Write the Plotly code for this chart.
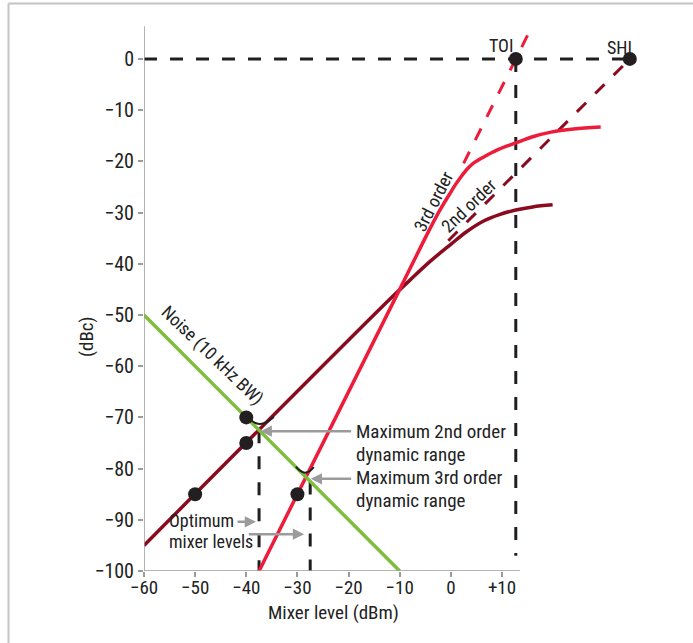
import plotly.graph_objects as go

# ---------------- data ----------------
x_tick_vals = [-60, -50, -40, -30, -20, -10, 0, 10]
x_tick_text = ["\u221260", "\u221250", "\u221240", "\u221230", "\u221220", "\u221210", "0", "+10"]
y_tick_vals = [0, -10, -20, -30, -40, -50, -60, -70, -80, -90, -100]
y_tick_text = ["0", "\u221210", "\u221220", "\u221230", "\u221240", "\u221250",
               "\u221260", "\u221270", "\u221280", "\u221290", "\u2212100"]

noise_x = [-60, -10]
noise_y = [-50, -100]

second_x = [-60, -12, -8, -4, 0, 3, 6.5, 9.5, 12.7, 16, 19.9]
second_y = [-95, -47, -43.2, -39.5, -36.2, -33.8, -31.6, -30.4, -29.5, -28.9, -28.5]
second_ext_x = [-0.5, 35]
second_ext_y = [-35.5, 0]

third_x = [-37.5, -10, -4, -2, 0, 1, 2, 3.3, 4.5, 6.5, 9, 12.7, 16, 19.6, 24, 29.3]
third_y = [-100, -45, -33, -29.3, -26, -24.4, -23, -21.4, -20.3, -19.1, -17.8, -16.4, -15.2, -14.3, -13.7, -13.3]
third_ext_x = [2.5, 15.5]
third_ext_y = [-20.4, 5.6]

dots_x = [-40, -40, -50, -30]
dots_y = [-70, -75, -85, -85]
intercept_x = [12.7, 35]
intercept_y = [0, 0]
intercept_names = ["TOI", "SHI"]

zero_line_x = [-60, 35]
zero_line_y = [0, 0]
toi_drop_x = [12.7, 12.7]
toi_drop_y = [0, -97]
opt2_x = [-37.5, -37.5]
opt2_y = [-72.5, -100]
opt3_x = [-27.5, -27.5]
opt3_y = [-82.5, -100]

smile2_x = [-39.1, -38.2, -37.3, -36.0, -34.6]
smile2_y = [-70.5, -71.1, -71.3, -70.9, -69.9]
smile3_x = [-30.3, -29.5, -28.6, -27.6, -26.8]
smile3_y = [-79.6, -80.4, -80.8, -80.5, -79.7]

# ---------------- style ----------------
RED = "#ED1C3A"
DARK = "#8A0A1E"
GREEN = "#7DBE3C"
BLACK = "#231F20"
GRAY = "#9B9B9B"
TXT = "#222222"
FONT = "Liberation Sans Narrow, Roboto Condensed, DejaVu Sans Condensed, Arial Narrow, sans-serif"
DASH = "13px,13px"

fig = go.Figure()

def line(x, y, color, width, dash=None, shape="linear"):
    fig.add_trace(go.Scatter(x=x, y=y, mode="lines", cliponaxis=False,
                             line=dict(color=color, width=width, dash=dash,
                                       shape=shape, smoothing=1.0),
                             hoverinfo="skip", showlegend=False))

line(zero_line_x, zero_line_y, BLACK, 3, DASH)
line(toi_drop_x, toi_drop_y, BLACK, 3, DASH)
line(opt2_x, opt2_y, BLACK, 3, DASH)
line(opt3_x, opt3_y, BLACK, 3, DASH)
line(second_ext_x, second_ext_y, DARK, 3, DASH)
line(third_ext_x, third_ext_y, RED, 3, DASH)
line(second_x, second_y, DARK, 3.5, shape="spline")
line(third_x, third_y, RED, 3.5, shape="spline")
line(noise_x, noise_y, GREEN, 3.5)
line(smile2_x, smile2_y, BLACK, 2, shape="spline")
line(smile3_x, smile3_y, BLACK, 2, shape="spline")

fig.add_trace(go.Scatter(x=dots_x, y=dots_y, mode="markers", cliponaxis=False,
                         marker=dict(color=BLACK, size=14), showlegend=False, hoverinfo="skip"))
fig.add_trace(go.Scatter(x=intercept_x, y=intercept_y, mode="markers", cliponaxis=False,
                         marker=dict(color=BLACK, size=14), showlegend=False, hoverinfo="skip"))

# axis lines
fig.add_shape(type="line", x0=-60, x1=-60, y0=-100, y1=6.4, xref="x", yref="y",
              line=dict(color=GRAY, width=1.5))
fig.add_shape(type="line", x0=-60, x1=13.5, y0=-100, y1=-100, xref="x", yref="y",
              line=dict(color=GRAY, width=1.5))

# outer frame (pixel -> paper helpers)
def px2paper_x(p):
    return (p - 144) / 516.0

def px2paper_y(p):
    return (571 - p) / 551.0

fig.add_shape(type="line", xref="paper", yref="paper",
              x0=px2paper_x(8.5), x1=px2paper_x(8.5), y0=px2paper_y(3.5), y1=px2paper_y(660),
              line=dict(color="#C4C4C4", width=2))
fig.add_shape(type="line", xref="paper", yref="paper",
              x0=px2paper_x(8.5), x1=px2paper_x(710), y0=px2paper_y(3.5), y1=px2paper_y(3.5),
              line=dict(color="#C4C4C4", width=2))

ann = []

def text(x, y, s, size=17, angle=0, xanchor="center", color=TXT, ref="data", pad=1):
    r = ("x", "y") if ref == "data" else ("paper", "paper")
    ann.append(dict(x=x, y=y, xref=r[0], yref=r[1], text=s, showarrow=False,
                    textangle=angle, xanchor=xanchor, yanchor="middle", borderpad=pad,
                    font=dict(family=FONT, size=size, color=color)))

text(9.8, 2.7, intercept_names[0], 18)
text(32.9, 2.3, intercept_names[1], 18)
text(-3.3, -27.7, "3rd order", 18, angle=-63)
text(3.5, -28.7, "2nd order", 18, angle=-44)
text(-46.7, -57.8, "Noise (10 kHz BW)", 18, angle=44)
text(-18.9, -72.8, "Maximum 2nd order", 19, xanchor="left")
text(-18.9, -77.2, "dynamic range", 19, xanchor="left")
text(-18.9, -81.8, "Maximum 3rd order", 19, xanchor="left")
text(-18.9, -86.2, "dynamic range", 19, xanchor="left")
text(-55.5, -90.1, "Optimum", 18, xanchor="left")
text(-55.5, -94.2, "mixer levels", 18, xanchor="left")
text(px2paper_x(333), px2paper_y(612), "Mixer level (dBm)", 19, ref="paper", pad=0)
text(px2paper_x(86), px2paper_y(337), "(dBc)", 19, angle=-90, ref="paper")

def arrow(x_tail, x_head, y):
    ann.append(dict(x=x_head, y=y, ax=x_tail, ay=y, xref="x", yref="y",
                    axref="x", ayref="y", text="", showarrow=True,
                    arrowhead=2, arrowsize=0.9, arrowwidth=2.5, arrowcolor=GRAY))

arrow(-19.2, -37.2, -72.7)
arrow(-19.2, -27.4, -82.0)
arrow(-42.0, -38.1, -90.4)
arrow(-39.8, -28.7, -92.8)

fig.update_layout(
    width=693, height=643, autosize=False,
    margin=dict(l=144, r=33, t=20, b=72),
    paper_bgcolor="white", plot_bgcolor="white",
    showlegend=False, annotations=ann,
    xaxis=dict(range=[-60, 40.9], showgrid=False, zeroline=False, showline=False,
               tickvals=x_tick_vals, ticktext=x_tick_text, ticks="outside",
               ticklen=5, tickwidth=1.5, tickcolor=GRAY, ticklabelstandoff=-6,
               tickfont=dict(family=FONT, size=19, color=TXT), fixedrange=True),
    yaxis=dict(range=[-100, 7.6], showgrid=False, zeroline=False, showline=False,
               tickvals=y_tick_vals, ticktext=y_tick_text, ticks="outside",
               ticklen=5, tickwidth=1.5, tickcolor=GRAY,
               tickfont=dict(family=FONT, size=20, color=TXT), fixedrange=True),
)

fig.write_html("out.html", config={"displayModeBar": False},
               post_script="document.body.style.margin='0';")
